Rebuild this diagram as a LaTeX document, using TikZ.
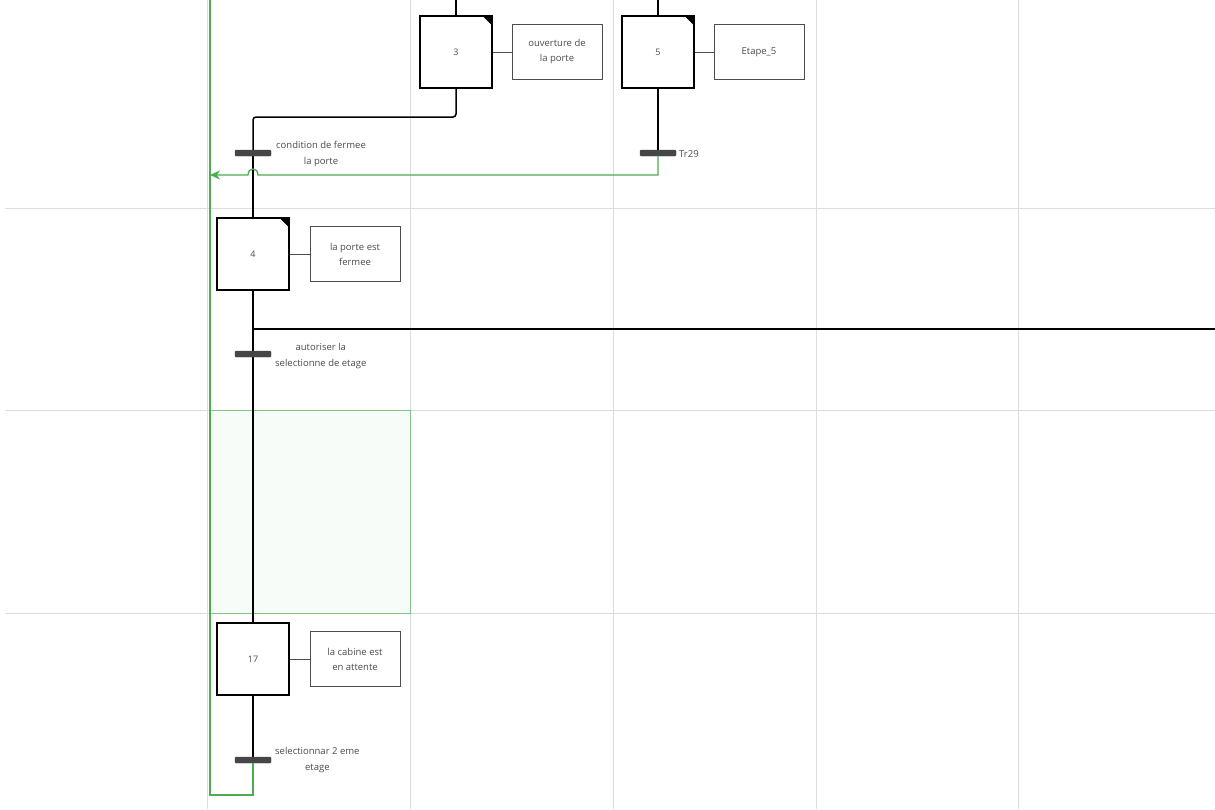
\documentclass[tikz,border=0pt]{standalone}
\usepackage{fontspec}
\setmainfont{Open Sans}
\usetikzlibrary{arrows.meta}
\definecolor{gridc}{RGB}{222,222,222}
\definecolor{grn}{RGB}{76,172,80}
\definecolor{barc}{RGB}{70,70,70}
\definecolor{txt}{RGB}{75,75,75}
\tikzset{
  stepbox/.style={draw=black, line width=1.6pt, minimum width=72pt, minimum height=72pt, inner sep=0pt, font=\fontsize{9}{10}\selectfont, text=txt},
  actbox/.style={draw=black!70, line width=0.8pt, minimum width=90pt, minimum height=55pt, inner sep=1pt, align=center, font=\fontsize{9.5}{15}\selectfont, text=txt},
  trbar/.style={fill=barc, draw=barc, rounded corners=1pt, minimum width=36pt, minimum height=6pt, inner sep=0pt},
  trlab/.style={font=\fontsize{9.5}{15.5}\selectfont, text=txt, align=center, inner sep=1pt},
  link/.style={line width=1.5pt, black},
  alink/.style={line width=0.7pt, black!70},
  gridl/.style={line width=0.8pt, gridc},
  glink/.style={line width=1.3pt, grn},
}
\newcommand{\cornermark}[1]{\fill (#1.north east) -- ++(-11pt,0) -- ++(11pt,-11pt) -- cycle;}
\begin{document}
\begin{tikzpicture}[x=1pt,y=-1pt]
\useasboundingbox (0,0) rectangle (1215,809);
\fill[white] (0,0) rectangle (1215,809);
% grid
\foreach \x in {207,410,613,816,1018} \draw[gridl] (\x,0) -- (\x,809);
\foreach \y in {208,410,613} \draw[gridl] (5,\y) -- (1215,\y);
% green selection rectangle
\draw[grn!70, line width=0.8pt, fill=grn!4] (210,410) rectangle (410,613);
% steps
\node[stepbox] (s3) at (456,52) {3};
\node[stepbox] (s5) at (658,52) {5};
\node[stepbox] (s4) at (253,254) {4};
\node[stepbox] (s17) at (253,659) {17};
\cornermark{s3}
\cornermark{s5}
\cornermark{s4}
% actions
\node[actbox] (a3) at (557,52) {ouverture de\\la porte};
\node[actbox] (a5) at (759,52) {Etape\_5};
\node[actbox] (a4) at (355,254) {la porte est\\fermee};
\node[actbox] (a17) at (355,659) {la cabine est\\en attente};
\draw[alink] (s3.east) -- (a3.west);
\draw[alink] (s5.east) -- (a5.west);
\draw[alink] (s4.east) -- (a4.west);
\draw[alink] (s17.east) -- (a17.west);
% top entries
\coordinate (top3) at (456,0);
\coordinate (top5) at (658,0);
\draw[link] (top3) -- (s3.north);
\draw[link] (top5) -- (s5.north);
% transition positions
\coordinate (t1) at (253,153);
\coordinate (t29) at (658,153);
\coordinate (t2) at (253,354);
\coordinate (t3) at (253,760);
% black links
\draw[link, rounded corners=3pt] (s3.south) |- (253,117) -- (t1);
\draw[link] (t1) -- (s4.north);
\draw[link] (s5.south) -- (t29);
\draw[link] (s4.south) -- (t2);
\draw[link] (t2) -- (s17.north);
\draw[link] (s17.south) -- (t3);
\coordinate (par) at (1215,329);
\draw[line width=2.6pt] (253,329) -- (par);
% transition bars and labels
\node[trbar] (b1) at (t1) {};
\node[trbar] (b29) at (t29) {};
\node[trbar] (b2) at (t2) {};
\node[trbar] (b3) at (t3) {};
\node[trlab, anchor=west] at (275,154) {condition de fermee\\la porte};
\node[trlab, anchor=west] (l29) at (678,154) {Tr29};
\node[trlab, anchor=west] at (274,356) {autoriser la\\selectionne de etage};
\node[trlab, anchor=west] at (274,760) {selectionnar 2 eme\\etage};
% green links
\coordinate (gtop) at (210,0);
\coordinate (garr) at (210,175);
\draw[glink] (b3.south) -- (253,795) -- (210,795) -- (gtop);
\draw[glink, -{Stealth[length=10pt,width=9pt]}] (b29.south) -- (658,175) -- (258,175) .. controls (258,167) and (248,167) .. (248,175) -- (garr);
\end{tikzpicture}
\end{document}
